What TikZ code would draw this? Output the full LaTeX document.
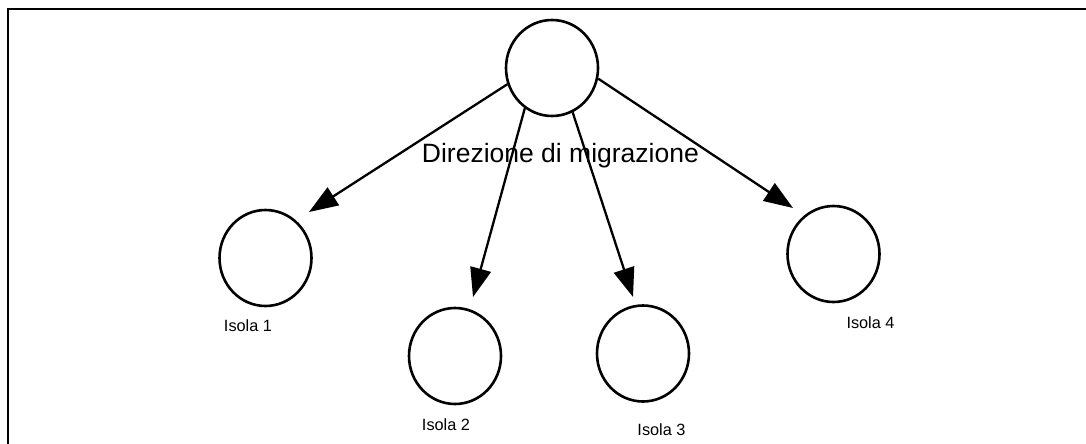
\documentclass[tikz,border=0pt]{standalone}
\usepackage{fontspec}
\setmainfont{Liberation Sans}
\usetikzlibrary{shapes.geometric,arrows.meta}
\begin{document}
\begin{tikzpicture}[x=1pt,y=-1pt,
  isle/.style={draw,ellipse,line width=2.6pt,minimum width=92pt,minimum height=96pt,inner sep=0pt},
  migr/.style={line width=2.3pt,-{Triangle[length=29pt,width=21pt]}},
  islelabel/.style={anchor=base,inner sep=0pt,font=\fontsize{16.3pt}{18pt}\selectfont},
  biglabel/.style={anchor=base,inner sep=0pt,font=\fontsize{26.5pt}{30pt}\selectfont}]
  \useasboundingbox (0,0) rectangle (1086,444);
  % frame
  \draw[line width=2.3pt] (8,444) -- (8,9) -- (1086,9);
  % source and islands
  \node[isle] (src) at (552,68) {};
  \node[isle] (i1) at (265.5,258) {};
  \node[isle] (i2) at (455,356) {};
  \node[isle] (i3) at (643,353.5) {};
  \node[isle] (i4) at (833.5,254) {};
  % arrow tips, just short of each island
  \coordinate (t1) at (309,212);
  \coordinate (t2) at (473,297);
  \coordinate (t3) at (633,297);
  \coordinate (t4) at (793,208);
  \draw[migr] (src.200) -- (t1);
  \draw[migr] (src.236) -- (t2);
  \draw[migr] (src.295) -- (t3);
  \draw[migr] (src.347) -- (t4);
  % labels
  \node[biglabel] (dir) at (560.4,162) {Direzione di migrazione};
  \node[islelabel] (l1) at (248,331) {Isola 1};
  \node[islelabel] (l2) at (446,430) {Isola 2};
  \node[islelabel] (l3) at (661.5,435) {Isola 3};
  \node[islelabel] (l4) at (870.5,328) {Isola 4};
\end{tikzpicture}
\end{document}
